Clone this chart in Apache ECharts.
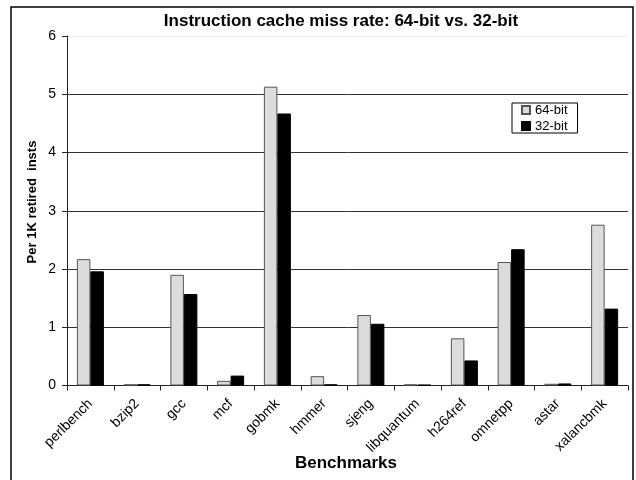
<!DOCTYPE html>
<html><head><meta charset="utf-8">
<script src="https://cdn.jsdelivr.net/npm/echarts@6/dist/echarts.min.js"></script>
<style>html,body{margin:0;padding:0;background:#fff}#c{width:636px;height:480px}</style>
</head><body><div id="c"></div>
<script>
const categories = ['perlbench','bzip2','gcc','mcf','gobmk','hmmer','sjeng','libquantum','h264ref','omnetpp','astar','xalancbmk'];
const bit64 = [2.17, 0.02, 1.90, 0.08, 5.13, 0.16, 1.21, 0.02, 0.81, 2.12, 0.03, 2.76];
const bit32 = [1.96, 0.02, 1.57, 0.17, 4.67, 0.02, 1.06, 0.012, 0.43, 2.34, 0.035, 1.32];
const yTicks = [0, 1, 2, 3, 4, 5, 6];

const chart = echarts.init(document.getElementById('c'), null, {renderer: 'canvas'});
const font = 'Liberation Sans, Arial, sans-serif';
chart.setOption({
  animation: false,
  backgroundColor: '#fff',
  title: {
    text: 'Instruction cache miss rate: 64-bit vs. 32-bit',
    left: 336, top: 8, textAlign: 'center',
    textStyle: {fontFamily: font, fontSize: 17, fontWeight: 'bold', color: '#000'}
  },
  legend: {
    orient: 'vertical', left: 512, top: 103,
    data: ['64-bit', '32-bit'],
    icon: 'rect', itemWidth: 8, itemHeight: 8, itemGap: 2,
    borderColor: '#000', borderWidth: 1, padding: [0, 10, 0, 9],
    textStyle: {fontFamily: font, fontSize: 13, color: '#000', lineHeight: 14}
  },
  grid: {left: 67, right: 8, top: 36, bottom: 94.5, containLabel: false, outerBoundsMode: 'none'},
  xAxis: {
    type: 'category', data: categories,
    axisLine: {lineStyle: {color: '#222', width: 1}},
    axisTick: {show: true, alignWithLabel: false, length: 5, inside: false, lineStyle: {color: '#222'}},
    axisLabel: {rotate: 45, fontFamily: font, fontSize: 14, color: '#000', margin: 16, interval: 0}
  },
  yAxis: {
    type: 'value', min: yTicks[0], max: yTicks[yTicks.length - 1], interval: 1,
    axisLine: {show: true, lineStyle: {color: '#222', width: 1}},
    axisTick: {show: true, length: 5, lineStyle: {color: '#222'}},
    axisLabel: {fontFamily: font, fontSize: 14, color: '#000', margin: 11},
    splitLine: {show: true, lineStyle: {color: ['#333', '#333', '#333', '#333', '#333', '#333', '#eeeeee'], width: 1}}
  },
  series: [
    {name: '64-bit', type: 'bar', data: bit64, barWidth: 13.5, barGap: '0%',
     itemStyle: {color: '#dcdcdc', borderColor: '#555', borderWidth: 1}},
    {name: '32-bit', type: 'bar', data: bit32, barWidth: 13.5,
     itemStyle: {color: '#000', borderColor: '#000', borderWidth: 1}}
  ],
  graphic: [
    {type: 'rect', shape: {x: 11, y: 7, width: 622, height: 480},
     style: {fill: 'none', stroke: '#000', lineWidth: 1.5}, silent: true, z: 100},
    {type: 'text', x: 32, y: 202, rotation: Math.PI / 2,
     style: {text: 'Per 1K retired  insts', fontFamily: font, fontSize: 13, fontWeight: 'bold',
             fill: '#000', align: 'center', verticalAlign: 'middle'}},
    {type: 'text', x: 346, y: 463,
     style: {text: 'Benchmarks', fontFamily: font, fontSize: 17, fontWeight: 'bold',
             fill: '#000', align: 'center', verticalAlign: 'middle'}}
  ]
});
</script></body></html>
